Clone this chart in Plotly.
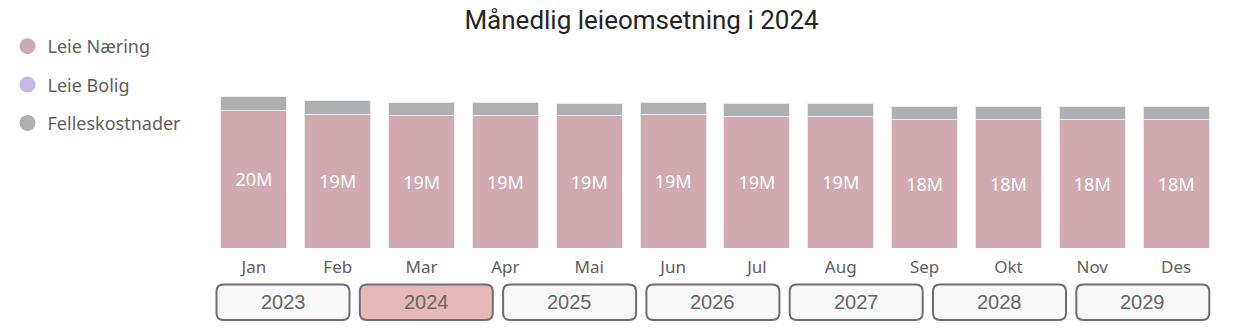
import plotly.graph_objects as go

months = ["Jan", "Feb", "Mar", "Apr", "Mai", "Jun", "Jul", "Aug", "Sep", "Okt", "Nov", "Des"]
leie_naering = [19.67, 19.10, 18.96, 18.91, 18.91, 19.06, 18.81, 18.81, 18.34, 18.34, 18.34, 18.34]
leie_bolig = [0, 0, 0, 0, 0, 0, 0, 0, 0, 0, 0, 0]
felleskostnader = [2.00, 1.96, 1.86, 1.86, 1.76, 1.76, 1.86, 1.86, 1.83, 1.83, 1.83, 1.83]
years = ["2023", "2024", "2025", "2026", "2027", "2028", "2029"]
selected_year = "2024"

C_NAERING = "#D1A9B0"
C_BOLIG = "#C7B6E6"
C_FELLES = "#AEAFB2"

W_PX, H_PX = 1249, 336
L, R, T, B = 212, 1218, 94, 248
PW, PH = R - L, B - T

fig = go.Figure()
line = dict(color="rgba(235,235,235,1)", width=1)
fig.add_trace(go.Bar(x=months, y=leie_naering, marker=dict(color=C_NAERING, line=line),
                     texttemplate="%{y:.0f}M", textposition="inside", insidetextanchor="middle",
                     textfont=dict(color="white", size=18, family="Noto Sans"),
                     showlegend=False, name="Leie Næring"))
fig.add_trace(go.Bar(x=months, y=leie_bolig, marker=dict(color=C_BOLIG), showlegend=False,
                     name="Leie Bolig"))
fig.add_trace(go.Bar(x=months, y=felleskostnader, marker=dict(color=C_FELLES, line=line),
                     showlegend=False, name="Felleskostnader"))

for nm, col in [("Leie Næring", C_NAERING), ("Leie Bolig", C_BOLIG), ("Felleskostnader", C_FELLES)]:
    fig.add_trace(go.Scatter(x=[None], y=[None], mode="markers", name=nm, legendgroup=nm,
                             marker=dict(color=col, size=16, symbol="circle")))

def to_paper(px, py):
    return (px - L) / PW, (B - py) / PH

def rrect(x0, y0, x1, y1, r):
    def p(x, y):
        a, b = to_paper(x, y)
        return f"{a:.5f},{b:.5f}"
    return (f"M {p(x0 + r, y0)} L {p(x1 - r, y0)} Q {p(x1, y0)} {p(x1, y0 + r)} "
            f"L {p(x1, y1 - r)} Q {p(x1, y1)} {p(x1 - r, y1)} "
            f"L {p(x0 + r, y1)} Q {p(x0, y1)} {p(x0, y1 - r)} "
            f"L {p(x0, y0 + r)} Q {p(x0, y0)} {p(x0 + r, y0)} Z")

shapes = []
annotations = []
bx0, bstep, bw, by0, by1 = 216.5, 143.3, 133, 284.5, 320
for i, yr in enumerate(years):
    x0 = bx0 + i * bstep
    x1 = x0 + bw
    fill = "#E6B8B7" if yr == selected_year else "#F8F8F8"
    shapes.append(dict(type="path", xref="paper", yref="paper", path=rrect(x0, by0, x1, by1, 7),
                       fillcolor=fill, line=dict(color="#6E6E6E", width=2), layer="above"))
    cx, cy = to_paper((x0 + x1) / 2, (by0 + by1) / 2)
    annotations.append(dict(x=cx, y=cy, xref="paper", yref="paper", text=yr, showarrow=False,
                            xanchor="center", yanchor="middle",
                            font=dict(family="Liberation Sans, Arial", size=20, color="#666666")))

fig.update_layout(
    width=W_PX, height=H_PX,
    margin=dict(l=L, r=W_PX - R, t=T, b=H_PX - B, pad=0),
    paper_bgcolor="white", plot_bgcolor="white",
    barmode="stack", bargap=0.212,
    title=dict(text="Månedlig leieomsetning i 2024", x=641.5 / W_PX, xanchor="center",
               y=1 - 20 / H_PX, yanchor="middle", xref="container", yref="container",
               font=dict(family="Roboto", size=26, color="#252423", weight=400)),
    legend=dict(xref="container", yref="container", x=0.006, y=1 - 28 / H_PX,
                xanchor="left", yanchor="top", traceorder="grouped", tracegroupgap=12,
                font=dict(family="Noto Sans", size=18, color="#605E5C"),
                bgcolor="rgba(0,0,0,0)"),
    xaxis=dict(showgrid=False, showline=False, zeroline=False, ticks="",
               tickfont=dict(family="Noto Sans", size=17, color="#605E5C"),
               ticklabelstandoff=7),
    yaxis=dict(range=[0, 22], visible=False, showgrid=False, zeroline=False),
    shapes=shapes, annotations=annotations,
)

fig.write_html("out.html")
